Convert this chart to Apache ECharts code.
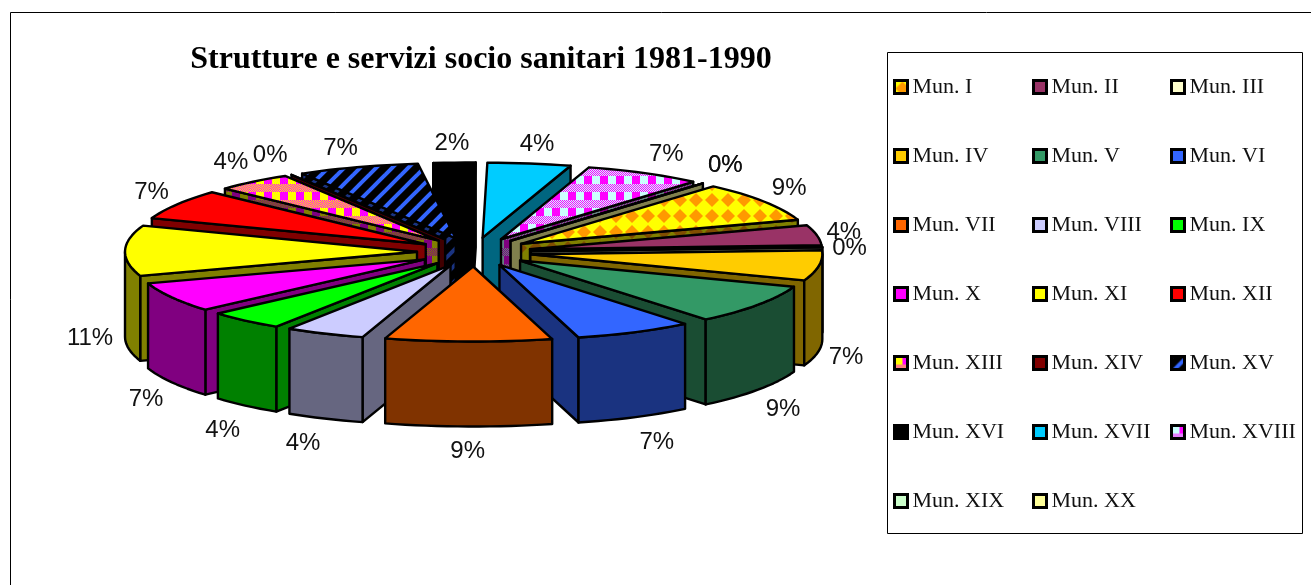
<!DOCTYPE html>
<html>
<head>
<meta charset="utf-8">
<style>
  html, body { margin: 0; padding: 0; background: #fff; }
  #myChart { width: 1311px; height: 585px; }
</style>
<script src="https://cdn.jsdelivr.net/npm/echarts@6/dist/echarts.min.js"></script>
</head>
<body>
<div id="myChart"></div>
<script>
var titleText = 'Strutture e servizi socio sanitari 1981-1990';
var categories = ['Mun. I', 'Mun. II', 'Mun. III', 'Mun. IV', 'Mun. V', 'Mun. VI', 'Mun. VII', 'Mun. VIII', 'Mun. IX', 'Mun. X',
  'Mun. XI', 'Mun. XII', 'Mun. XIII', 'Mun. XIV', 'Mun. XV', 'Mun. XVI', 'Mun. XVII', 'Mun. XVIII', 'Mun. XIX', 'Mun. XX'];
var values = [4, 2, 0, 3, 4, 3, 4, 2, 2, 3, 5, 3, 2, 0, 3, 1, 2, 3, 0, 0];

// pie geometry (oblique view)
var cx = 474, cy = 252;
var rx = 292, ry = 75;
var explodeX = 57, explodeY = 14.5;
var depth = 85;
var firstAngle = 40;

var total = values.reduce(function (a, b) { return a + b; }, 0);

// small canvas tiles for the excel style pattern fills
function tile(size, draw) {
  var c = document.createElement('canvas');
  c.width = c.height = size;
  draw(c.getContext('2d'), size);
  return { image: c, repeat: 'repeat' };
}
function diamonds(bg, fg) {
  return tile(16, function (g, s) {
    g.fillStyle = bg;
    g.fillRect(0, 0, s, s);
    g.fillStyle = fg;
    g.beginPath();
    g.moveTo(8, 1);
    g.lineTo(15, 8);
    g.lineTo(8, 15);
    g.lineTo(1, 8);
    g.closePath();
    g.fill();
  });
}
function plaid(a, b) {
  return tile(16, function (g) {
    for (var y = 0; y < 16; y++) {
      for (var x = 0; x < 16; x++) {
        if (y < 8) g.fillStyle = x < 8 ? a : b;
        else g.fillStyle = (x + y) % 2 ? a : b;
        g.fillRect(x, y, 1, 1);
      }
    }
  });
}
function diagonal(bg, fg) {
  return tile(16, function (g, s) {
    g.fillStyle = bg;
    g.fillRect(0, 0, s, s);
    g.strokeStyle = fg;
    g.lineWidth = 4;
    [-16, 0, 16].forEach(function (o) {
      g.beginPath();
      g.moveTo(o - 4, s + 4);
      g.lineTo(o + s + 4, -4);
      g.stroke();
    });
  });
}

var topColors = [diamonds('#FFFF00', '#FF9900'), '#993366', '#FFFFCC', '#FFCC00', '#339966', '#3366FF', '#FF6600', '#CCCCFF', '#00FF00', '#FF00FF',
  '#FFFF00', '#FF0000', plaid('#FFFF00', '#FF00FF'), '#800000', diagonal('#000000', '#3366FF'), '#000000', '#00CCFF', plaid('#CCFFFF', '#FF00FF'), '#CCFFCC', '#FFFF99'];
var wallColors = [diamonds('#808000', '#804D00'), '#4D1A33', '#808066', '#806600', '#1A4D33', '#1A3380', '#803300', '#666680', '#008000', '#800080',
  '#808000', '#800000', plaid('#808000', '#800080'), '#400000', diagonal('#000000', '#1A3380'), '#000000', '#006680', plaid('#668080', '#800080'), '#668066', '#80804D'];

// angles clockwise from 12 o'clock
var sliceAngles = [];
var running = 0;
values.forEach(function (v) {
  var a = firstAngle + running / total * 360;
  running += v;
  sliceAngles.push([a, firstAngle + running / total * 360]);
});

function rad(d) { return d * Math.PI / 180; }

function renderSlice(i, value) {
  var a = sliceAngles[i][0], b = sliceAngles[i][1];
  var mid = (a + b) / 2;
  var ox = cx + explodeX * Math.sin(rad(mid));
  var oy = cy - explodeY * Math.cos(rad(mid));
  function rim(t, dz) {
    // the reference is a bit wider near the vertical axis than a true ellipse
    var widen = 1 + 0.07 * Math.pow(Math.cos(rad(t)), 4);
    return [ox + rx * widen * Math.sin(rad(t)), oy - ry * Math.cos(rad(t)) + (dz || 0)];
  }
  function arc(from, to, dz) {
    var pts = [];
    var n = Math.max(1, Math.ceil((to - from) / 2));
    for (var k = 0; k <= n; k++) pts.push(rim(from + (to - from) * k / n, dz));
    return pts;
  }
  var line = { stroke: '#000', lineWidth: 2.4, lineJoin: 'round' };
  function poly(points, fill) {
    return { type: 'polygon', shape: { points: points }, style: Object.assign({ fill: fill }, line) };
  }
  var children = [];
  var wall = wallColors[i];
  // cut faces towards the viewer
  if (Math.sin(rad(a)) < 0) {
    children.push(poly([[ox, oy], rim(a), rim(a, depth), [ox, oy + depth]], wall));
  }
  if (Math.sin(rad(b)) > 0) {
    children.push(poly([[ox, oy], rim(b), rim(b, depth), [ox, oy + depth]], wall));
  }
  // outer wall, front half of the ellipse only (angles can run past 360)
  [[90, 270], [450, 630]].forEach(function (range) {
    var from = Math.max(a, range[0]), to = Math.min(b, range[1]);
    if (to > from) {
      children.push(poly(arc(from, to, 0).concat(arc(from, to, depth).reverse()), wall));
    }
  });
  // top face
  children.push(poly([[ox, oy]].concat(arc(a, b, 0)), topColors[i]));

  // percentage label
  var text = Math.round(value / total * 100) + '%';
  var s = Math.sin(rad(mid)), c = Math.cos(rad(mid));
  var lx = cx + (rx + explodeX) * s + (27 + (text.length - 2) * 8) * Math.max(-1, Math.min(1, s * 2.5));
  var ly = cy + 3 - (ry + explodeY) * c + Math.max(-22, Math.min(22, -28 * c)) + (c < 0.02 ? depth : 0);
  children.push({
    type: 'text',
    style: {
      x: lx, y: ly,
      text: text,
      fill: '#111',
      font: '24px "Liberation Sans"',
      textAlign: 'center',
      textVerticalAlign: 'middle'
    }
  });
  return { type: 'group', children: children };
}

// back slices first, so front ones cover them
var order = categories.map(function (n, i) { return i; }).sort(function (p, q) {
  var mp = (sliceAngles[p][0] + sliceAngles[p][1]) / 2;
  var mq = (sliceAngles[q][0] + sliceAngles[q][1]) / 2;
  return Math.cos(rad(mq)) - Math.cos(rad(mp));
});

var series = categories.map(function (name, i) {
  return {
    name: name,
    type: 'custom',
    coordinateSystem: 'none',
    z: 2 + order.indexOf(i),
    silent: true,
    data: [values[i]],
    renderItem: function (params, api) {
      return renderSlice(i, api.value(0));
    }
  };
});

function legendColumn(col, left) {
  return {
    orient: 'vertical',
    left: left,
    top: 76,
    padding: 0,
    itemWidth: 13,
    itemHeight: 13,
    itemGap: 47,
    icon: 'rect',
    selectedMode: false,
    textStyle: { fontFamily: 'Liberation Serif', fontSize: 22, color: '#111' },
    data: categories.map(function (name, i) {
      return { name: name, itemStyle: { color: topColors[i], borderColor: '#000', borderWidth: 3 } };
    }).filter(function (d, i) { return i % 3 === col; })
  };
}

var myChart = echarts.init(document.getElementById('myChart'));
myChart.setOption({
  animation: false,
  backgroundColor: '#fff',
  title: {
    text: titleText,
    left: 481,
    top: 44,
    textAlign: 'center',
    padding: 0,
    textStyle: { fontFamily: 'Liberation Serif', fontWeight: 'bold', fontSize: 32, color: '#000' }
  },
  legend: [legendColumn(0, 893), legendColumn(1, 1032), legendColumn(2, 1170)],
  graphic: [
    { type: 'rect', z: 0, shape: { x: 10.5, y: 12.5, width: 1400, height: 700 }, style: { fill: '#fff', stroke: '#000', lineWidth: 1 } },
    { type: 'rect', z: 0, shape: { x: 887.5, y: 52.5, width: 415, height: 481 }, style: { fill: '#fff', stroke: '#000', lineWidth: 1 } }
  ],
  series: series
});
</script>
</body>
</html>
